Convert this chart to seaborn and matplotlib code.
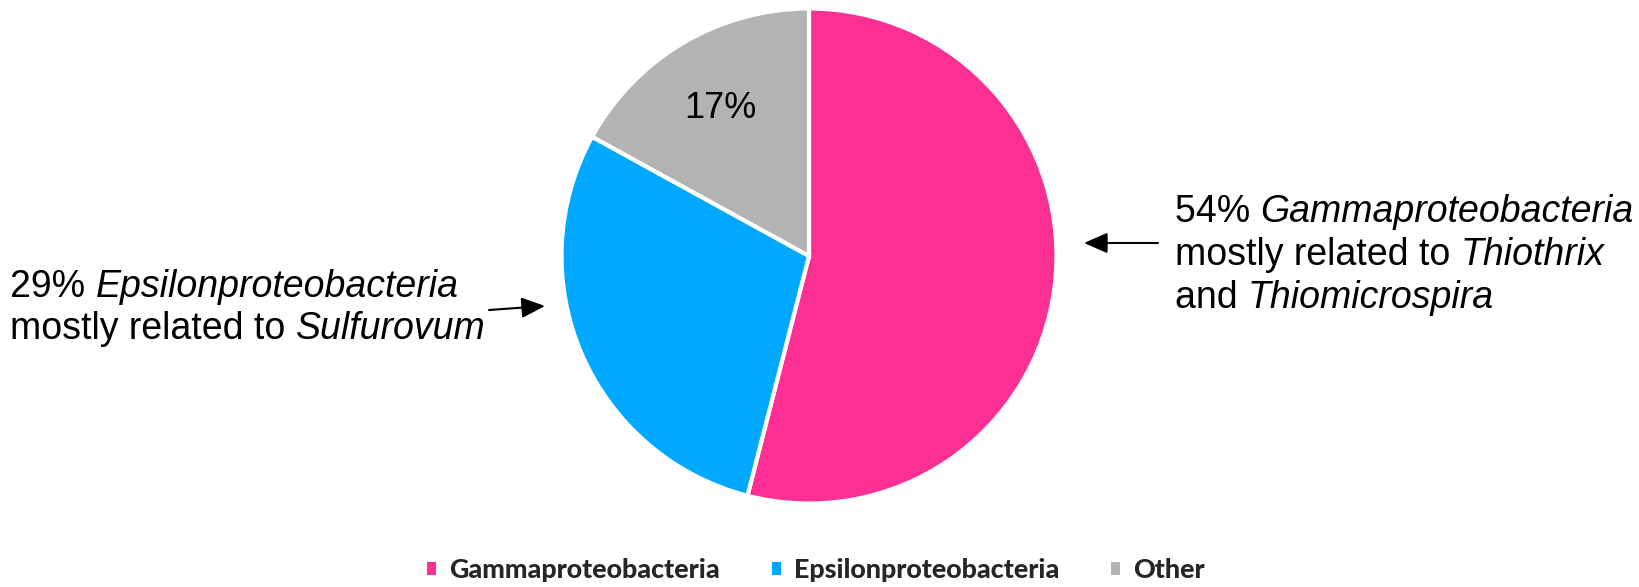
import matplotlib
matplotlib.use("Agg")
import matplotlib.pyplot as plt
import seaborn as sns
from matplotlib.patches import Rectangle, FancyArrowPatch

categories = ["Gammaproteobacteria", "Epsilonproteobacteria", "Other"]
values = [54, 29, 17]
colors = ["#FC2F92", "#00A9FF", "#B3B3B3"]
left_lines = [[("29% ", "normal"), ("Epsilonproteobacteria", "italic")],
              [("mostly related to ", "normal"), ("Sulfurovum", "italic")]]
right_lines = [[("54% ", "normal"), ("Gammaproteobacteria", "italic")],
               [("mostly related to ", "normal"), ("Thiothrix", "italic")],
               [("and ", "normal"), ("Thiomicrospira", "italic")]]
inside_label = "17%"

sns.set_theme(style="white")
plt.rcParams["font.family"] = ["Liberation Sans", "DejaVu Sans"]

W, H = 1640, 587
fig = plt.figure(figsize=(W / 100, H / 100), dpi=100)
fig.patch.set_facecolor("white")

cx, cy, r = 809, 256, 247.5
ax = fig.add_axes([(cx - r) / W, (H - cy - r) / H, 2 * r / W, 2 * r / H])
wedges, _ = ax.pie(values, colors=colors, startangle=90, counterclock=False,
                   radius=1, wedgeprops=dict(edgecolor="white", linewidth=3))
ax.set_xlim(-1, 1)
ax.set_ylim(-1, 1)
ax.axis("off")


def fp(x, y):
    return (x / W, 1 - y / H)


fig.text(*fp(720, 109), inside_label, ha="center", va="center", fontsize=26, color="black")

fig.canvas.draw()
renderer = fig.canvas.get_renderer()


def rich_line(x, y, parts, size=27):
    xc = x
    for txt, style in parts:
        t = fig.text(*fp(xc, y), txt, ha="left", va="center", fontsize=size,
                     style=style, color="black")
        bb = t.get_window_extent(renderer=renderer)
        xc += bb.width


for i, parts in enumerate(left_lines):
    rich_line(10, 287 + 42 * i, parts)
for i, parts in enumerate(right_lines):
    rich_line(1175, 212 + 43 * i, parts)

for a, b in [((489, 310), (545, 306)), ((1158, 243), (1084, 243))]:
    fig.add_artist(FancyArrowPatch(fp(*a), fp(*b), transform=fig.transFigure,
                                   arrowstyle="-|>,head_length=0.8,head_width=0.35",
                                   mutation_scale=18, color="black", lw=1.5,
                                   shrinkA=0, shrinkB=0))

# legend font size calibrated to the reference text width
leg_family = "Lato"
leg_weight = 900
probe = fig.text(0, 0, categories[0], fontsize=10, family=leg_family, weight=leg_weight)
pw = probe.get_window_extent(renderer=renderer).width
probe.remove()
leg_size = 10 * 271 / pw

fs_px = leg_size * 100 / 72
handles = [Rectangle((0, 0), 1, 1, facecolor=c, edgecolor="none") for c in colors]
leg = fig.legend(handles, categories, loc="center", bbox_to_anchor=fp(816, 570),
                 ncol=3, frameon=False, handlelength=9 / fs_px, handleheight=9 / fs_px,
                 handletextpad=13 / fs_px, columnspacing=52 / fs_px,
                 prop=dict(family=leg_family, weight=leg_weight, size=leg_size))

fig.savefig("out.png", dpi=100, facecolor="white")
